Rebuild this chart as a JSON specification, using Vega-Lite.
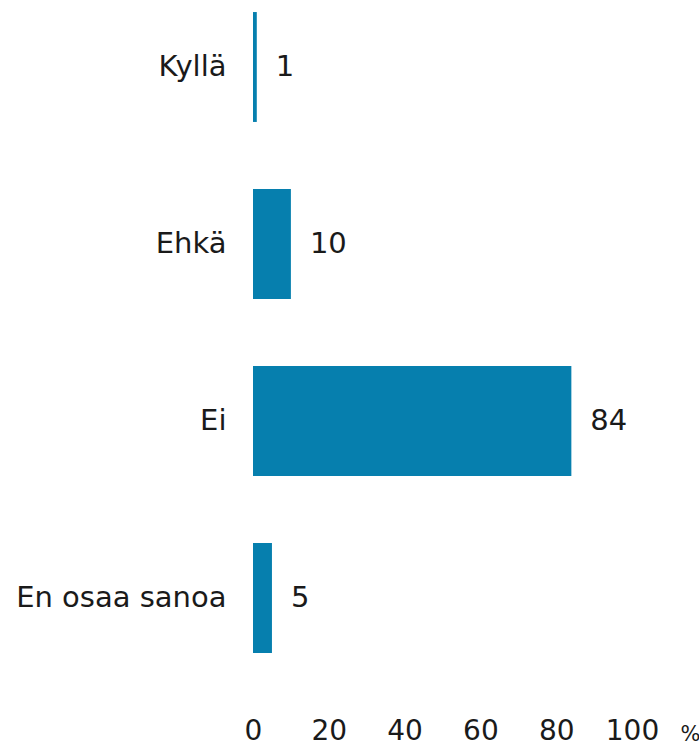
{
  "$schema": "https://vega.github.io/schema/vega-lite/v6.json",
  "autosize": {"type": "none"},
  "padding": {"left": 253, "top": 0, "right": 67, "bottom": 81},
  "width": 379,
  "height": 665,
  "background": "white",
  "config": {"view": {"stroke": null}, "font": "DejaVu Sans"},
  "data": {"values": [
    {"cat": "Kyllä", "value": 1},
    {"cat": "Ehkä", "value": 10},
    {"cat": "Ei", "value": 84},
    {"cat": "En osaa sanoa", "value": 5}
  ]},
  "encoding": {
    "y": {"field": "cat", "type": "nominal", "sort": null,
      "scale": {"paddingInner": 0.379, "paddingOuter": 0.068},
      "axis": {"title": null, "domain": false, "ticks": false, "tickSize": 0, "labelPadding": 27, "labelFontSize": 29, "labelLimit": 300, "labelColor": "#1a1a1a", "labelFont": "DejaVu Sans"}},
    "x": {"field": "value", "type": "quantitative",
      "scale": {"domain": [0, 100], "nice": false},
      "axis": {"values": [0, 20, 40, 60, 80, 100], "grid": false, "domain": false, "ticks": false, "tickSize": 0,
        "labelFontSize": 28, "labelColor": "#1a1a1a", "labelBaseline": "alphabetic", "labelPadding": 74, "labelFlush": false,
        "title": "%", "titleFontSize": 21, "titleFontWeight": "normal", "titleColor": "#1a1a1a", "titleAlign": "left", "titleBaseline": "alphabetic", "titleX": 427, "titleY": 75}}
  },
  "layer": [
    {"mark": {"type": "bar", "color": "#067FAE"}},
    {"mark": {"type": "text", "align": "left", "baseline": "middle", "dx": 19, "fontSize": 29, "color": "#1a1a1a"},
      "encoding": {"text": {"field": "value", "type": "quantitative"}}}
  ]
}
